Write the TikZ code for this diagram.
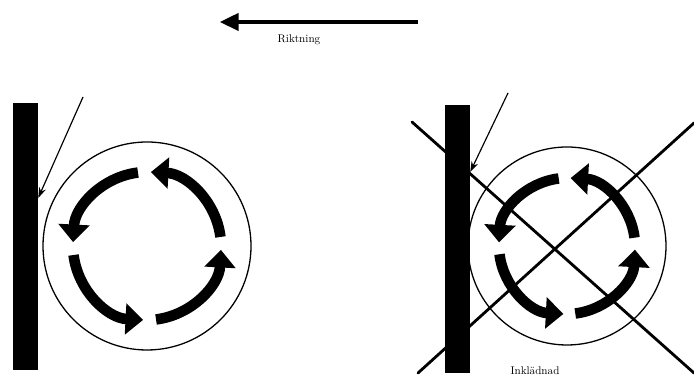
\documentclass[tikz,border=0pt]{standalone}
\usepackage{tikz}
\usetikzlibrary{arrows.meta,positioning,calc}

\begin{document}
\begin{tikzpicture}[
    x=0.03cm, y=0.03cm,
    every node/.style={align=center},
    wall/.style={fill=black, draw=none},
    ring/.style={draw=black, line width=1.1pt},
    rotarrow/.style={line width=9pt, -{Triangle[length=15pt, width=26pt]}},
    pointer/.style={line width=1pt, -{Stealth[length=9pt, width=6pt]}},
    dirarrow/.style={line width=2.6pt, -{Triangle[length=16pt, width=15pt]}},
    crossline/.style={line width=2.4pt, line cap=round},
    label/.style={font=\fontsize{9.5}{11}\selectfont, inner sep=1pt}
]
\useasboundingbox (0,0) rectangle (694,376);

% Direction
\coordinate (dirstart) at (418,354);
\coordinate (dirend) at (220,354);
\draw[dirarrow] (dirstart) -- (dirend);
\node[label] (riktning) at (299,336) {Riktning};

% Left figure
\node[wall, minimum width=25*0.03cm, minimum height=267*0.03cm, inner sep=0pt] (leftwall) at (25.5,139.5) {};
\coordinate (lc) at (147,130);
\draw[ring] (lc) circle[radius=104];
\foreach \a in {0,90,180,270}
    \draw[rotarrow] ($(lc)+(\a+7:74)$) arc[start angle=\a+7, end angle=\a+87, radius=74];
\coordinate (leftptr) at (83,279);
\draw[pointer] (leftptr) -- (leftwall.east |- 0,178);

% Right figure
\node[wall, minimum width=25*0.03cm, minimum height=268*0.03cm, inner sep=0pt] (rightwall) at (457.5,137) {};
\coordinate (rc) at (567,130);
\draw[ring] (rc) circle[radius=99];
\foreach \a in {0,90,180,270}
    \draw[rotarrow] ($(rc)+(\a+7:68)$) arc[start angle=\a+7, end angle=\a+87, radius=68];
\coordinate (rightptr) at (508,283);
\draw[pointer] (rightptr) -- (rightwall.east |- 0,204);

% Crossed out
\coordinate (xa) at (412,254);
\coordinate (xb) at (694,3);
\coordinate (xc) at (418,3);
\coordinate (xd) at (694,253);
\draw[crossline] (xa) -- (xb);
\draw[crossline] (xc) -- (xd);
\node[label] (inkladnad) at (535,5) {Inklädnad};

\end{tikzpicture}
\end{document}
